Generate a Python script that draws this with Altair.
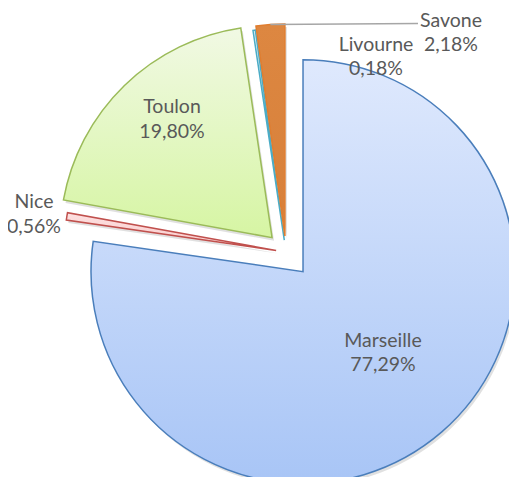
import altair as alt
import pandas as pd

# ---- data ----
cities = ["Marseille", "Nice", "Toulon", "Livourne", "Savone"]
shares = [77.29, 0.56, 19.80, 0.18, 2.18]
pct_labels = ["77,29%", "0,56%", "19,80%", "0,18%", "2,18%"]

# ---- style / layout ----
CX, CY = 278, 244          # common pie centre (px, chart coords)
R = 212                    # radius (px)
explode = {"Marseille": 26, "Nice": 10, "Toulon": 20, "Livourne": 12, "Savone": 16}
# label anchor (first-line baseline, centred) as offset from pie centre
label_off = {"Marseille": (97, 94.7), "Nice": (-252, -43.7), "Toulon": (-114, -138.7),
             "Livourne": (90, -201.3), "Savone": (165, -225.5)}
fills = {
    "Marseille": ("#dfe9fd", "#a8c5f6"),
    "Nice": ("#fde0e0", "#f9caca"),
    "Toulon": ("#f1f9e4", "#d6f5a3"),
    "Livourne": ("#e0f1f7", "#c5e6f0"),
    "Savone": ("#dd8741", "#d7803a"),
}
strokes = {"Marseille": "#4a7ebb", "Nice": "#c0504d", "Toulon": "#9bbb59",
           "Livourne": "#4bacc6", "Savone": "#e07d2f"}

df = pd.DataFrame({
    "city": cities,
    "share": shares,
    "pct": pct_labels,
    "order": list(range(len(cities))),
    "explode": [explode[c] for c in cities],
    "ldx": [label_off[c][0] for c in cities],
    "ldy": [label_off[c][1] for c in cities],
})

base = alt.Chart(df).transform_window(
    cum="sum(share)", sort=[alt.SortField("order")], frame=[None, 0]
).transform_joinaggregate(
    total="sum(share)"
).transform_calculate(
    t0="(datum.cum - datum.share) / datum.total * 2 * PI",
    t1="datum.cum / datum.total * 2 * PI",
).transform_calculate(
    mid="(datum.t0 + datum.t1) / 2",
).transform_calculate(
    px=f"{CX} + datum.explode * sin(datum.mid)",
    py=f"{CY} - datum.explode * cos(datum.mid)",
    lx=f"{CX} + datum.ldx",
    ly=f"{CY} + datum.ldy",
    txt="datum.city + '\\n' + datum.pct",
).transform_calculate(
    ax=f"datum.px + {R} * sin(datum.mid)",
    ay=f"datum.py - {R} * cos(datum.mid)",
    ex="datum.lx - 33",
    ey="datum.ly - 3",
)

enc = dict(
    x=alt.X("px:Q", scale=None, axis=None),
    y=alt.Y("py:Q", scale=None, axis=None),
    theta=alt.Theta("t0:Q", scale=None, stack=None),
    theta2=alt.Theta2("t1:Q"),
)

layers = []
# soft shadow
layers.append(
    base.mark_arc(radius=R, fill="#000000", fillOpacity=0.12, xOffset=2, yOffset=3).encode(**enc)
)
for c in cities:
    top, bot = fills[c]
    grad = alt.Gradient(
        gradient="linear",
        stops=[alt.GradientStop(color=top, offset=0), alt.GradientStop(color=bot, offset=1)],
        x1=0, x2=0, y1=0, y2=1,
    )
    layers.append(
        base.transform_filter(alt.datum.city == c)
        .mark_arc(radius=R, fill=grad, stroke=strokes[c], strokeWidth=1.5, strokeJoin="miter")
        .encode(**enc)
    )

leader = base.transform_filter(alt.datum.city == "Savone").mark_rule(
    color="#a6a6a6", strokeWidth=1.5
).encode(
    x=alt.X("ax:Q", scale=None, axis=None), y=alt.Y("ay:Q", scale=None, axis=None),
    x2="ex:Q", y2="ey:Q",
)
layers.append(leader)

text = base.mark_text(
    font="Lato", fontSize=19.5, color="#595959", lineBreak="\n", lineHeight=24.5,
    align="center", baseline="alphabetic",
).encode(
    x=alt.X("lx:Q", scale=None, axis=None), y=alt.Y("ly:Q", scale=None, axis=None),
    text="txt:N",
)
layers.append(text)

chart = alt.layer(*layers).properties(
    width=501, height=469, padding=0,
    autosize=alt.AutoSizeParams(type="none"),
).configure_view(stroke=None)

chart.save("out.html", embed_options={"renderer": "svg", "actions": False})
